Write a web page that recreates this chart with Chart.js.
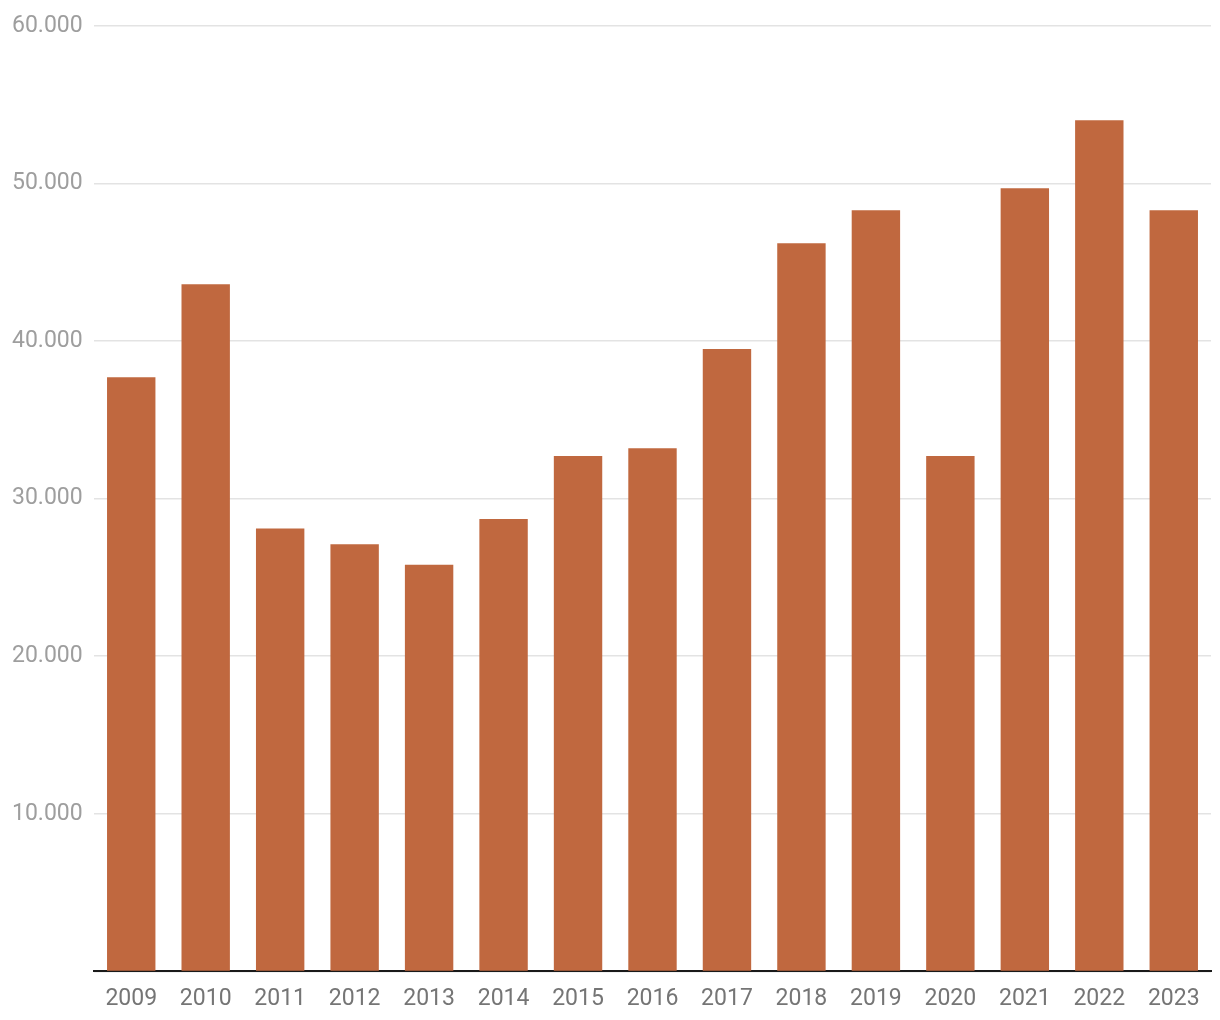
<!DOCTYPE html>
<html><head><meta charset="utf-8">
<script src="https://cdn.jsdelivr.net/npm/chart.js@4.4.1/dist/chart.umd.min.js"></script>
<style>html,body{margin:0;padding:0;background:#fff}#wrap{width:1220px;height:1020px;position:relative}</style>
</head><body><div id="wrap"><canvas id="c" width="1220" height="1020"></canvas></div>
<script>
const categories = ['2009','2010','2011','2012','2013','2014','2015','2016','2017','2018','2019','2020','2021','2022','2023'];
const values = [37700, 43600, 28100, 27100, 25800, 28700, 32700, 33200, 39500, 46200, 48300, 32700, 49700, 54000, 48300];
const yTicks = [0, 10000, 20000, 30000, 40000, 50000, 60000];

new Chart(document.getElementById('c'), {
  type: 'bar',
  data: { labels: categories, datasets: [{ data: values, backgroundColor: '#C0683F', categoryPercentage: 1, barPercentage: 0.65 }] },
  options: {
    responsive: false, animation: false,
    layout: { padding: { top: 10, right: 9, bottom: 1, left: 12 } },
    plugins: { legend: { display: false }, tooltip: { enabled: false } },
    scales: {
      x: {
        grid: { display: false },
        border: { display: true, color: '#1a1a1a', width: 2 },
        ticks: { color: '#757575', font: { family: 'Roboto', size: 23 }, padding: 6, maxRotation: 0 }
      },
      y: {
        min: 0, max: 60000,
        afterBuildTicks: s => { s.ticks = yTicks.map(v => ({ value: v })); },
        afterFit: s => { s.width = 82; },
        grid: { color: '#e3e3e3', lineWidth: 1.5, drawTicks: false },
        border: { display: false },
        ticks: {
          color: '#9e9e9e', font: { family: 'Roboto', size: 23 }, padding: 12, crossAlign: 'far',
          callback: v => v === 0 ? '' : v.toLocaleString('de-DE')
        }
      }
    }
  }
});
</script></body></html>
